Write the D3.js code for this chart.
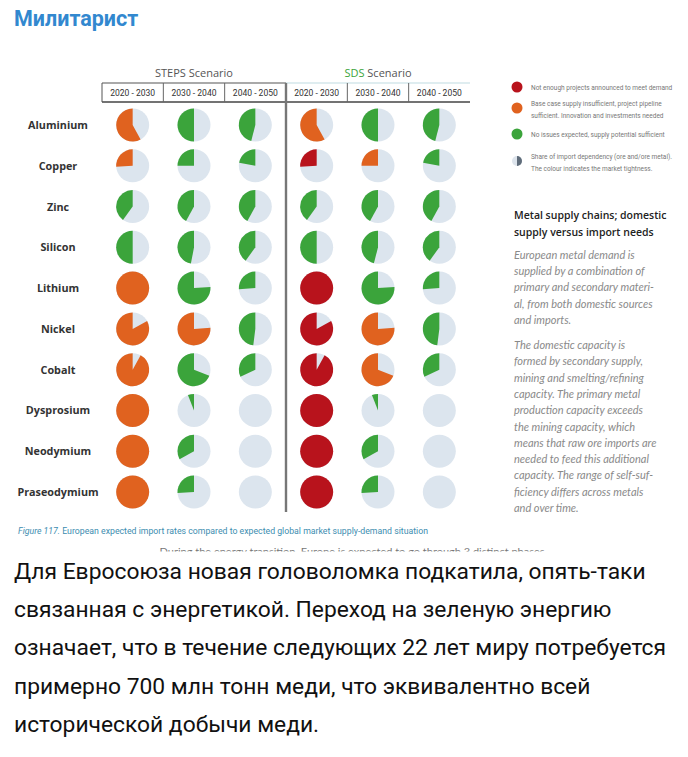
<!DOCTYPE html>
<html><head><meta charset="utf-8">
<script src="https://cdn.jsdelivr.net/npm/d3@7/dist/d3.min.js"></script>
<style>body{margin:0;background:#fff}svg{display:block}</style>
</head><body>
<script>
const metals = ["Aluminium","Copper","Zinc","Silicon","Lithium","Nickel","Cobalt","Dysprosium","Neodymium","Praseodymium"];
const periods = ["2020 - 2030","2030 - 2040","2040 - 2050"];
const scenarios = ["STEPS","SDS"];
// share of import dependency (0-1) per metal x period
const stepsShare = [[0.58,0.50,0.46],[0.26,0.25,0.22],[0.40,0.42,0.42],[0.50,0.47,0.40],[1.0,0.76,0.26],[0.83,0.76,0.48],[0.92,0.69,0.32],[1.0,0.06,0],[1.0,0.33,0],[1.0,0.26,0]];
const sdsShare   = [[0.58,0.50,0.46],[0.26,0.25,0.22],[0.40,0.42,0.42],[0.50,0.46,0.40],[1.0,0.76,0.26],[0.83,0.76,0.48],[0.92,0.69,0.32],[1.0,0.06,0],[1.0,0.33,0],[1.0,0.26,0]];
// market status: R = not enough projects, O = base case insufficient, G = no issues
const stepsStatus = [["O","G","G"],["O","G","G"],["G","G","G"],["G","G","G"],["O","G","G"],["O","O","G"],["O","G","G"],["O","G","G"],["O","G","G"],["O","G","G"]];
const sdsStatus   = [["O","G","G"],["R","O","G"],["G","G","G"],["G","G","G"],["R","G","G"],["R","O","G"],["R","O","G"],["R","G","G"],["R","G","G"],["R","G","G"]];
const legendItems = [
  {code:"R", lines:["Not enough projects announced to meet demand"]},
  {code:"O", lines:["Base case supply insufficient, project pipeline","sufficient. Innovation and investments needed"]},
  {code:"G", lines:["No issues expected, supply potential sufficient"]},
  {code:"S", lines:["Share of import dependency (ore and/ore metal).","The colour indicates the market tightness."]}
];
const sideTitle = ["Metal supply chains; domestic","supply versus import needs"];
const sidePara1 = ["European metal demand is","supplied by a combination of","primary and secondary materi-","al, from both domestic sources","and imports."];
const sidePara2 = ["The domestic capacity is","formed by secondary supply,","mining and smelting/refining","capacity. The primary metal","production capacity exceeds","the mining capacity, which","means that raw ore imports are","needed to feed this additional","capacity. The range of self-suf-","ficiency differs across metals","and over time."];
const bodyLines = ["Для Евросоюза новая головоломка подкатила, опять-таки","связанная с энергетикой. Переход на зеленую энергию","означает, что в течение следующих 22 лет миру потребуется","примерно 700 млн тонн меди, что эквивалентно всей","исторической добычи меди."];

const colors = {R:"#b8131c", O:"#e0621f", G:"#3ba43b", L:"#dce5ee"};

const W=688,H=757;
const svg = d3.select("body").append("svg").attr("width",W).attr("height",H);

// Title
svg.append("text").attr("x",14).attr("y",26).text("Милитарист")
  .attr("font-family","Roboto").attr("font-weight",700).attr("font-size",21.5).attr("fill","#3288cf");

// scales
const x = d3.scaleBand().domain(d3.range(6)).range([102,470]);
const y = d3.scalePoint().domain(metals).range([125,492]);
const R = 16.5;

// header
const hdr = svg.append("g");
hdr.append("text").attr("x",(x(0)+x(2)+x.bandwidth())/2).attr("y",77).attr("text-anchor","middle")
  .attr("font-family","Open Sans").attr("font-size",11).attr("fill","#555").text("STEPS Scenario");
const sdsT = hdr.append("text").attr("x",(x(3)+x(5)+x.bandwidth())/2).attr("y",77).attr("text-anchor","middle")
  .attr("font-family","Open Sans").attr("font-size",11).attr("fill","#555");
sdsT.append("tspan").attr("fill","#3ba43b").text("SDS");
sdsT.append("tspan").text(" Scenario");
hdr.append("line").attr("x1",x(0)).attr("x2",x(3)).attr("y1",83).attr("y2",83).attr("stroke","#555").attr("stroke-width",1.2);
hdr.append("line").attr("x1",x(3)).attr("x2",x.range()[1]).attr("y1",83).attr("y2",83).attr("stroke","#bfdbe2").attr("stroke-width",1.2);
hdr.append("line").attr("x1",x(0)).attr("x2",x.range()[1]).attr("y1",102).attr("y2",102).attr("stroke","#444").attr("stroke-width",1.3);
[0,1,2,4,5].forEach(i=>{
  hdr.append("line").attr("x1",x(i)).attr("x2",x(i)).attr("y1",83).attr("y2",102).attr("stroke",i===0?"#555":"#666").attr("stroke-width",1);
});
hdr.append("line").attr("x1",x(3)).attr("x2",x(3)).attr("y1",83).attr("y2",512).attr("stroke","#777").attr("stroke-width",2.4);
d3.range(6).forEach(i=>{
  hdr.append("text").attr("x",x(i)+x.bandwidth()/2).attr("y",96).attr("text-anchor","middle")
   .attr("font-family","Liberation Sans Narrow, Roboto").attr("font-size",9).attr("fill","#333")
   .attr("textLength",45).attr("lengthAdjust","spacingAndGlyphs").text(periods[i%3]);
});

// row labels
svg.append("g").selectAll("text").data(metals).join("text")
  .attr("x",58).attr("y",d=>y(d)+4).attr("text-anchor","middle")
  .attr("font-family","Open Sans").attr("font-weight",700).attr("font-size",10.8).attr("fill","#333").text(d=>d);

// pies
const arc = d3.arc().innerRadius(0).outerRadius(R);
const cells=[];
metals.forEach((m,r)=>{
  for(let c=0;c<3;c++){
    cells.push({m,col:c,share:stepsShare[r][c],status:stepsStatus[r][c]});
    cells.push({m,col:c+3,share:sdsShare[r][c],status:sdsStatus[r][c]});
  }
});
const pg = svg.append("g").selectAll("g").data(cells).join("g")
  .attr("transform",d=>`translate(${x(d.col)+x.bandwidth()/2},${y(d.m)})`);
pg.append("circle").attr("r",R).attr("fill",colors.L);
pg.filter(d=>d.share>0).append("path")
  .attr("d",d=>arc({startAngle:-d.share*2*Math.PI,endAngle:0}))
  .attr("fill",d=>colors[d.status]);

// legend
const lg = svg.append("g");
const legY=[87,103,134,156];
legendItems.forEach((it,i)=>{
  const cy=legY[i]+(it.lines.length>1?5:0);
  if(it.code==="S"){
    lg.append("circle").attr("cx",517).attr("cy",cy).attr("r",5).attr("fill","#dde4ec");
    lg.append("path").attr("transform",`translate(517,${cy})`).attr("d",d3.arc().innerRadius(0).outerRadius(5)({startAngle:0,endAngle:Math.PI})).attr("fill","#5f6c7a");
  } else {
    lg.append("circle").attr("cx",517).attr("cy",cy).attr("r",5.5).attr("fill",colors[it.code]);
  }
  it.lines.forEach((t,j)=>{
    lg.append("text").attr("x",531).attr("y",legY[i]+2.5+j*12)
      .attr("font-family","Liberation Sans Narrow, Roboto").attr("font-size",6.5).attr("fill","#777").text(t);
  });
});

// side text
const st = svg.append("g");
sideTitle.forEach((t,i)=>st.append("text").attr("x",514).attr("y",219+i*16.5).text(t)
  .attr("font-family","Open Sans").attr("font-weight",600).attr("font-size",10.5).attr("fill","#222"));
sidePara1.forEach((t,i)=>st.append("text").attr("x",514).attr("y",259+i*16.2).text(t)
  .attr("font-family","Lato").attr("font-style","italic").attr("font-size",11).attr("fill","#8a8a8a"));
sidePara2.forEach((t,i)=>st.append("text").attr("x",514).attr("y",349+i*16.3).text(t)
  .attr("font-family","Lato").attr("font-style","italic").attr("font-size",11).attr("fill","#8a8a8a"));

// caption
const cap = svg.append("text").attr("x",18).attr("y",534).attr("font-family","Liberation Sans Narrow, Roboto")
  .attr("font-size",8.5).attr("fill","#3d8db0").attr("textLength",410).attr("lengthAdjust","spacingAndGlyphs");
cap.append("tspan").attr("font-style","italic").text("Figure 117. ");
cap.append("tspan").text("European expected import rates compared to expected global market supply-demand situation");

// clipped continuation text (cut off at the bottom of the figure)
svg.append("clipPath").attr("id","cut").append("rect").attr("x",0).attr("y",545).attr("width",W).attr("height",6.5);
svg.append("text").attr("clip-path","url(#cut)").attr("x",352).attr("y",555).attr("text-anchor","middle")
  .attr("font-family","Lato").attr("font-size",10).attr("fill","#777")
  .attr("textLength",385).attr("lengthAdjust","spacingAndGlyphs")
  .text("During the energy transition, Europe is expected to go through 3 distinct phases");

// body text
const bt = svg.append("g");
bodyLines.forEach((t,i)=>bt.append("text").attr("x",14).attr("y",579+i*38.2).text(t)
  .attr("font-family","Roboto").attr("font-size",22.8).attr("fill","#111"));
</script>
</body></html>
